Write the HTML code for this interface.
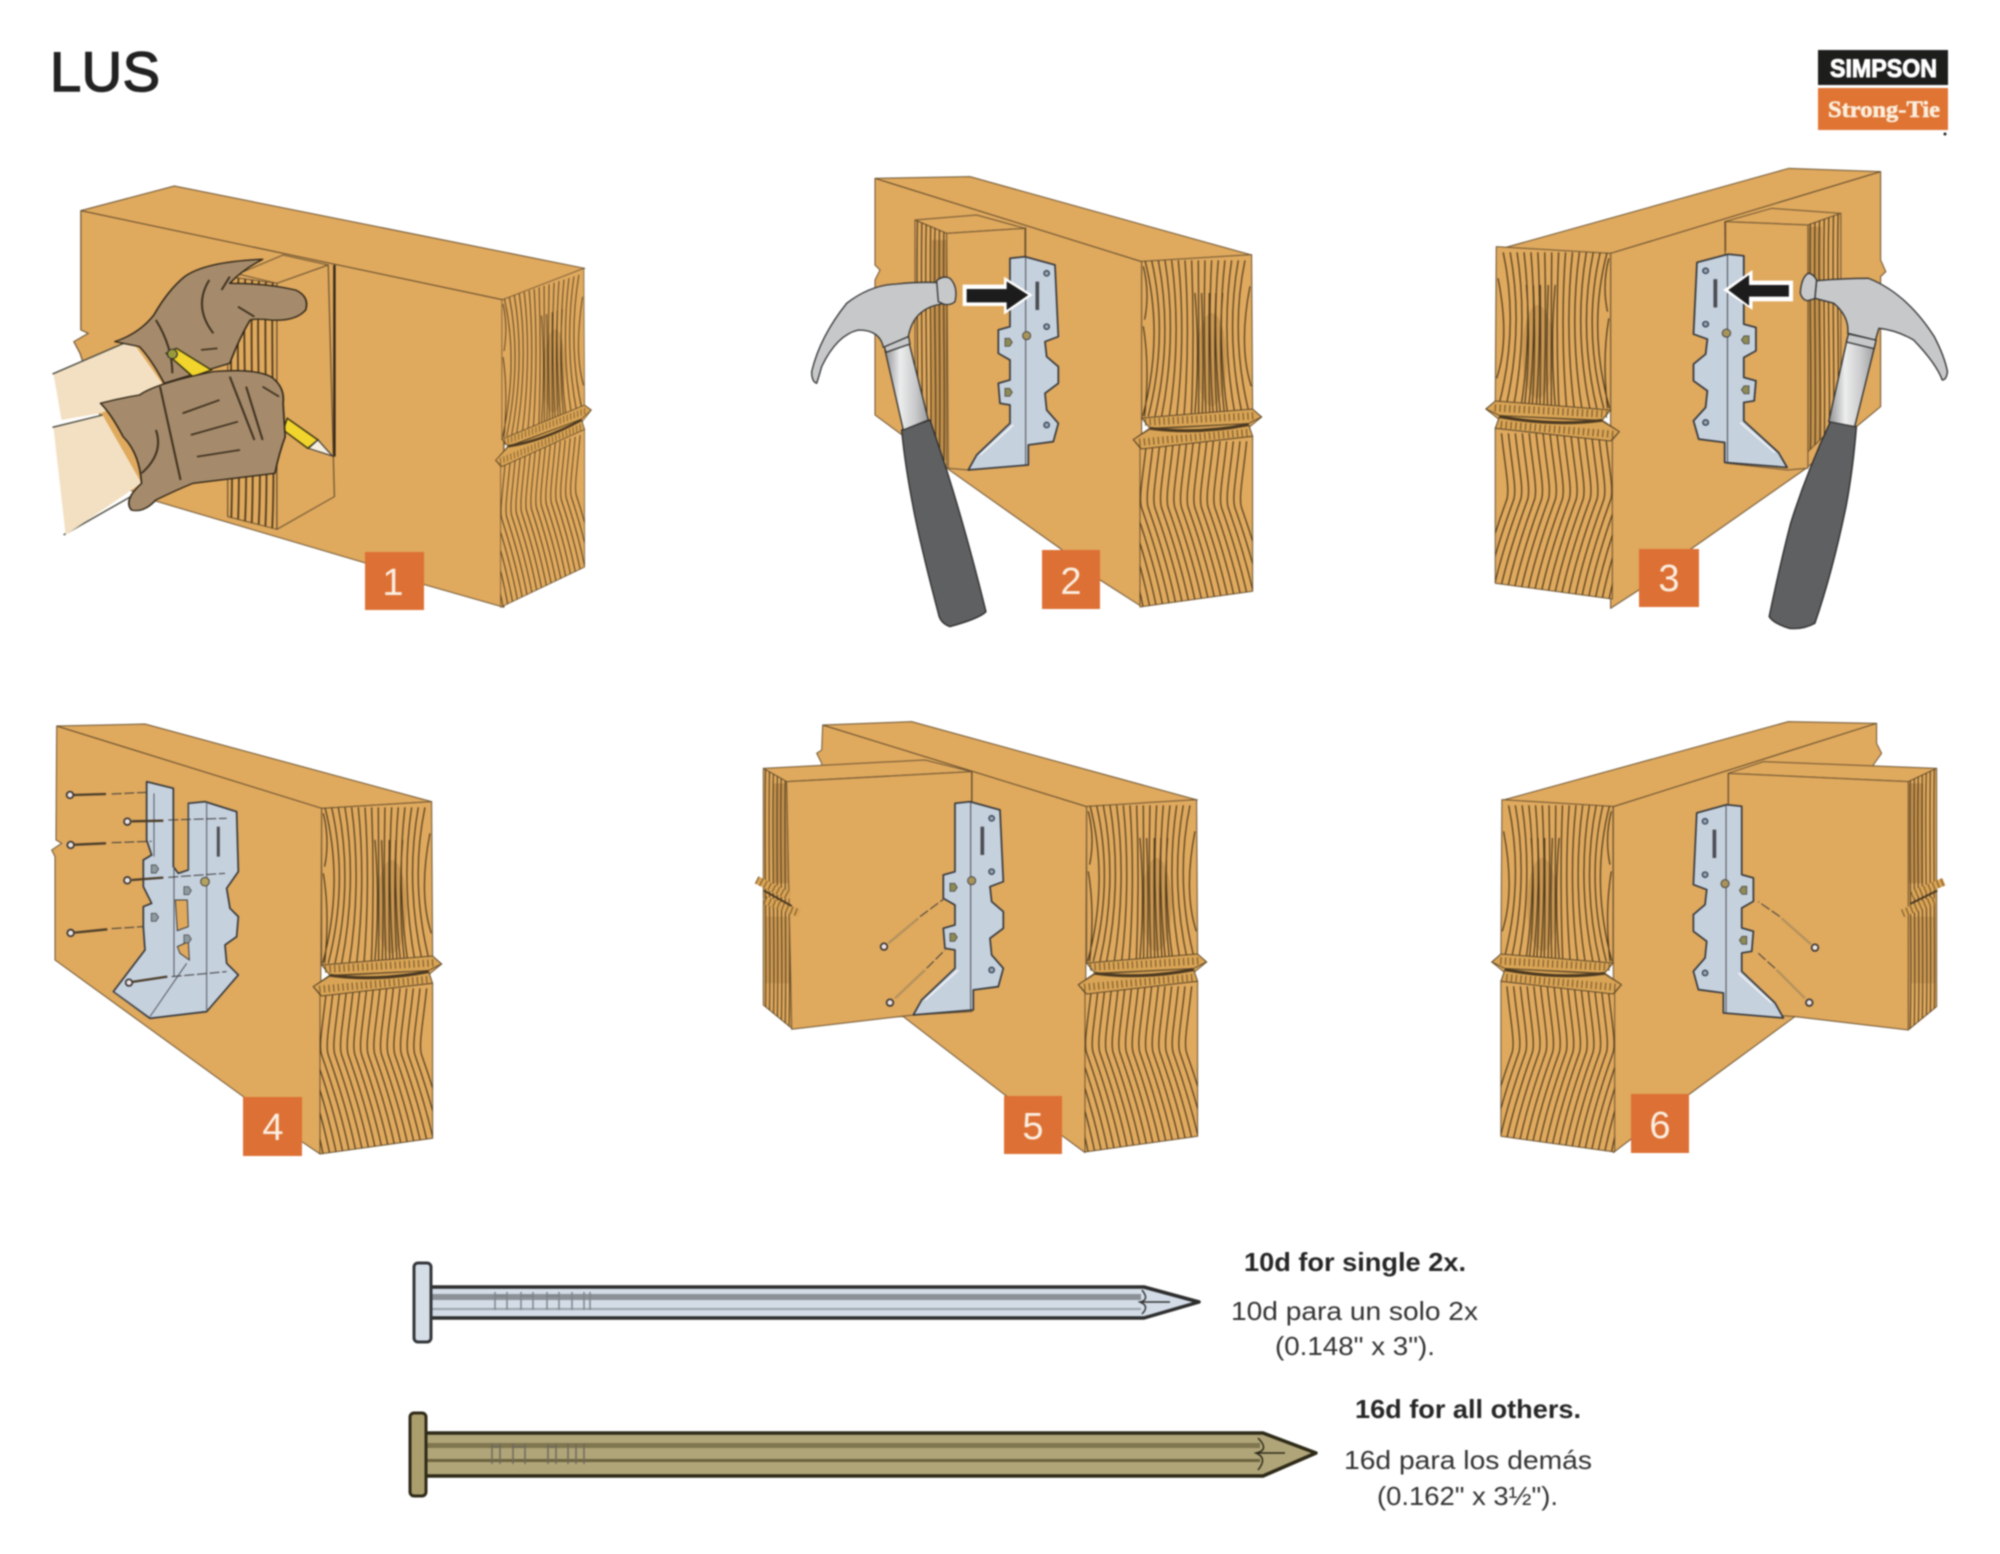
<!DOCTYPE html>
<html><head><meta charset="utf-8"><title>LUS</title>
<style>
html,body{margin:0;padding:0;background:#fff}
svg{display:block;filter:blur(.8px)}
.w{fill:#dfa95e;stroke:#6d5431;stroke-width:3;stroke-linejoin:round}
.e{fill:none;stroke:#5d4728;stroke-width:3}
.g{fill:none;stroke:#4f3a1c;stroke-width:3.6}
.gl{fill:#a58b6b;stroke:#2f2518;stroke-width:4;stroke-linejoin:round}
.wr{fill:none;stroke:#3e3020;stroke-width:5}
.b{fill:#c6d1de;stroke:#33373b;stroke-width:5;stroke-linejoin:round}
.h{fill:#f0e2e0;stroke:#333;stroke-width:5}
.s{fill:#5f6062;stroke:#2c2c2c;stroke-width:4;stroke-linejoin:round}
.m{fill:#c6c8ca;stroke:#333;stroke-width:4;stroke-linejoin:round}
.ns{stroke:#4a3c28;fill:none;stroke-width:7}
.nd{stroke:#3a3a3a;fill:none;stroke-width:3;stroke-dasharray:30 8}
text{font-family:"Liberation Sans",sans-serif}
.t{font-size:26px;fill:#333}
.tb{font-size:26px;fill:#262626;font-weight:bold}
.n{font-size:38px;fill:#fbeee0;text-anchor:middle}
</style></head><body>
<svg xmlns="http://www.w3.org/2000/svg" width="2000" height="1554" viewBox="0 0 2000 1554">
<defs>
<linearGradient id="sh" x1="0" x2="1" y1="0" y2="0"><stop offset="0" stop-color="#8f9092"/><stop offset=".35" stop-color="#eceded"/><stop offset=".7" stop-color="#c9cacb"/><stop offset="1" stop-color="#9a9b9d"/></linearGradient>
<clipPath id="egc"><polygon points="875,325 1205,305 1208,772 875,797"/><polygon points="870,885 1208,850 1208,1315 870,1362"/></clipPath>
<g id="eg">
<polygon class="w" points="875,325 1205,305 1208,770 1235,792 1195,825 1208,850 1208,1315 870,1362 870,885 850,860 900,825 875,795"/>
<g clip-path="url(#egc)">
<ellipse cx="1085" cy="620" rx="45" ry="140" fill="#a6773a" opacity=".35"/>
<path class="g" d="M885 322Q943 550 878 790M905 322Q956 550 895 790M925 322Q969 550 915 790M945 322Q982 550 935 790M965 322Q995 550 958 790M985 322Q1008 550 980 790M1005 322Q1021 550 1002 790M1025 322Q1034 550 1024 790M1045 322Q1047 550 1046 790M1065 322Q1060 550 1068 790M1085 322Q1073 550 1090 790M1105 322Q1086 550 1112 790M1125 322Q1099 550 1134 790M1145 322Q1112 550 1156 790M1165 322Q1125 550 1178 790M1185 322Q1138 550 1200 790M880 340Q900 420 884 500M880 520Q900 640 884 790M1200 400Q1165 580 1204 700M1035 420Q1050 600 1035 780M1055 420Q1062 600 1057 780M1078 420Q1076 600 1079 780M1098 420Q1090 600 1101 780M1118 420Q1104 600 1123 780"/>
<path class="g" d="M810 865c-10 100-25 170-15 200s55 150 85 300M830 865c-10 100-25 170-15 200s55 150 85 300M850 865c-10 100-25 170-15 200s55 150 85 300M870 865c-10 100-25 170-15 200s55 150 85 300M890 865c-10 100-25 170-15 200s55 150 85 300M910 865c-10 100-25 170-15 200s55 150 85 300M930 865c-10 100-25 170-15 200s55 150 85 300M950 865c-10 100-25 170-15 200s55 150 85 300M970 865c-10 100-25 170-15 200s55 150 85 300M990 865c-10 100-25 170-15 200s55 150 85 300M1010 865c-10 100-25 170-15 200s55 150 85 300M1030 865c-10 100-25 170-15 200s55 150 85 300M1050 865c-10 100-25 170-15 200s55 150 85 300M1070 865c-10 100-25 170-15 200s55 150 85 300M1090 865c-10 100-25 170-15 200s55 150 85 300M1110 865c-10 100-25 170-15 200s55 150 85 300M1130 865c-10 100-25 170-15 200s55 150 85 300M1150 865c-10 100-25 170-15 200s55 150 85 300M1170 865c-10 100-25 170-15 200s55 150 85 300M1190 865c-10 100-25 170-15 200s55 150 85 300"/>
</g>
<polygon points="875,795 1208,768 1235,792 1195,812 900,826" fill="#d9a455" stroke="#5d4728" stroke-width="3"/>
<line x1="885" y1="808" x2="1220" y2="788" stroke="#5a4220" stroke-width="22" stroke-dasharray="3 11" opacity=".85"/>
<polygon points="850,860 900,828 1195,812 1208,850 875,888" fill="#d9a455" stroke="#5d4728" stroke-width="3"/>
<line x1="868" y1="868" x2="1200" y2="838" stroke="#5a4220" stroke-width="22" stroke-dasharray="3 11" opacity=".85"/>
<path d="M900 826Q1040 845 1195 815" fill="none" stroke="#4a3820" stroke-width="9"/>
</g>
<path id="jg" class="g" d="M8 0c-6 200 6 500-2 700M22 0c-6 200 6 500-2 700M36 0c-8 200 8 500-2 700M50 0c-6 200 6 500-2 700M64 0c-8 200 8 500-2 700M78 0c-6 200 6 500-2 700M92 0c-6 200 6 500-2 700"/>
<g id="br">
<polygon class="b" points="690,355 735,350 825,375 835,590 795,605 800,650 835,680 835,730 795,760 800,810 835,850 820,905 745,915 745,975 565,990 590,945 690,850 690,795 660,790 655,730 690,720 690,660 655,640 655,570 690,560"/>
<line x1="737" y1="352" x2="737" y2="975" stroke="#4a4d52" stroke-width="3"/>
<path d="M600 945L700 855" stroke="#eef1f5" stroke-width="5"/>
<path d="M772 425L772 510" stroke="#4a4d52" stroke-width="11"/>
<circle cx="740" cy="587" r="12" fill="#a8945a" stroke="#444" stroke-width="3"/>
<circle cx="800" cy="400" r="8" fill="#9aa5b2" stroke="#2e3d4e" stroke-width="4"/><circle cx="800" cy="560" r="8" fill="#9aa5b2" stroke="#2e3d4e" stroke-width="4"/><circle cx="800" cy="855" r="8" fill="#9aa5b2" stroke="#2e3d4e" stroke-width="4"/>
<path d="M675 595h14l8 12-8 12h-14z" fill="#8d8a55" stroke="#333" stroke-width="2"/>
<path d="M675 745h14l8 12-8 12h-14z" fill="#8d8a55" stroke="#333" stroke-width="2"/>
</g>
</defs>

<rect width="2000" height="1554" fill="#fff"/>
<text x="50" y="91" font-size="56" fill="#222" stroke="#222" stroke-width="1.5" textLength="110">LUS</text>

<!-- logo -->
<rect x="1818" y="50" width="130" height="35" fill="#1d1d1b"/>
<rect x="1818" y="88" width="130" height="42" fill="#df7433"/>
<text x="1830" y="77" font-size="25" font-weight="bold" fill="#fff" stroke="#fff" stroke-width="1" textLength="107" lengthAdjust="spacingAndGlyphs">SIMPSON</text>
<text x="1828" y="117" font-size="23" font-weight="bold" fill="#fbeedd" stroke="#fbeedd" stroke-width=".6" style="font-family:'Liberation Serif',serif" textLength="112" lengthAdjust="spacingAndGlyphs">Strong-Tie</text>
<circle cx="1945" cy="134" r="1.5" fill="#222"/>

<!-- PANEL 1 -->
<g transform="translate(0,120) scale(.4103,.3333)">
<polygon class="w" points="197,272 425,198 1425,445 1228,540 1228,1462 1037,1395 893,1330 370,1140 300,1100 195,700 180,665 215,640 197,630"/>
<line class="e" x1="197" y1="272" x2="1228" y2="540"/>
</g>
<use href="#eg" transform="matrix(.2485,-.078,0,.296,284.4,272)"/>
<g transform="translate(0,120) scale(.4103,.3333)">
<polygon class="w" points="580,462 690,405 800,435 675,490"/>
<polygon class="w" points="555,470 675,490 675,1228 555,1190"/>
<clipPath id="c1"><polygon points="555,470 675,490 675,1228 555,1190"/></clipPath>
<g clip-path="url(#c1)"><use href="#jg" transform="translate(555,465) scale(1.2,1.1)"/></g>
<polygon class="w" points="675,490 800,435 815,1130 675,1228"/>
<line x1="815" y1="435" x2="815" y2="1010" stroke="#33281a" stroke-width="6"/>
<!-- arms -->
<polygon points="130,760 320,660 395,790 300,850 245,880 150,900" fill="#f3e0c2"/>
<path d="M128 762L320 660M155 1245L340 1115" fill="none" stroke="#4a4a40" stroke-width="4"/>
<!-- upper glove -->
<path class="gl" d="M280 665Q340 640 375 585Q410 510 450 470Q500 425 640 418Q590 450 560 490Q650 490 720 510Q755 530 745 570Q720 605 660 600Q625 595 610 600Q585 650 560 730L400 790Q370 720 340 680Z"/>
<path class="wr" d="M510 480Q470 560 520 640M380 600Q420 680 420 760M580 560L620 590M560 470L540 510M490 690L530 685"/>
<!-- pencil -->
<polygon points="405,700 430,685 515,750 470,770" fill="#f1d52c" stroke="#3a3410" stroke-width="4"/>
<ellipse cx="420" cy="702" rx="12" ry="14" fill="#9a9a3a" stroke="#333" stroke-width="3"/>
<polygon points="700,895 775,960 750,985 690,930" fill="#f1d52c" stroke="#3a3410" stroke-width="4"/>
<polygon points="775,960 810,1008 752,985" fill="#f6efe0" stroke="#333" stroke-width="3"/>
<!-- lower arm and glove -->
<polygon points="130,920 250,885 345,1090 160,1245" fill="#f3e0c2"/>
<path d="M128 922L250 885" fill="none" stroke="#4a4a40" stroke-width="4"/>
<path class="gl" d="M245 850Q290 835 340 825Q380 790 520 755Q620 745 660 770Q695 800 690 850L695 950Q680 1000 670 1060Q570 1075 470 1090Q430 1110 380 1140Q350 1180 320 1170Q300 1140 345 1090Q340 1000 300 950Q270 880 245 850Z"/>
<path class="wr" d="M445 880L535 840M465 945L580 905M480 1010L585 990M600 800L640 960M390 800L440 1080M345 1060Q400 1000 380 930M560 770L620 960M640 800L680 830"/>
</g>

<!-- PANEL 2 -->
<g transform="translate(780,140) scale(.3333)">
<polygon class="w" points="285,115 570,110 1415,345 1085,365 1085,1400 960,1320 840,1225 515,995 285,825 285,420 300,390 285,375"/>
<line class="e" x1="285" y1="115" x2="1085" y2="365"/>
<polygon class="w" points="405,240 590,225 735,265 500,280"/>
<polygon class="w" points="405,240 500,280 500,985 405,900"/>
<clipPath id="c2"><polygon points="405,240 500,280 500,985 405,900"/></clipPath>
<g clip-path="url(#c2)"><rect x="455" y="300" width="45" height="660" fill="#a6773a" opacity=".5"/><use href="#jg" transform="translate(405,240) scale(.95,1.1)"/></g>
<polygon class="w" points="500,280 735,265 735,970 565,990 505,985"/>
<line class="e" x1="737" y1="262" x2="737" y2="360"/>
</g>
<use href="#eg" transform="matrix(.3333,0,0,.3333,850,153)"/>
<use href="#br" transform="matrix(.3333,0,0,.3333,780,140)"/>
<g transform="translate(780,140) scale(.3333)">
<polygon points="548,434 672,434 672,410 758,465 672,524 672,498 548,498" fill="#fff"/>
<polygon points="560,447 680,447 680,424 745,465 680,510 680,487 560,487" fill="#1c1c1c"/>
<path class="s" d="M365 870L450 840Q480 930 500 990Q560 1180 618 1415Q600 1435 510 1460Q480 1450 475 1420Q430 1250 405 1130Q375 980 365 870Z"/>
<polygon points="315,630 385,600 445,840 370,870" fill="url(#sh)" stroke="#333" stroke-width="4"/>
<polygon class="m" points="310,610 385,585 390,612 318,637"/>
<path class="m" d="M350 432Q420 425 480 428L485 492Q400 505 385 590L310 622Q300 570 235 570Q170 585 125 680Q115 715 110 730Q95 725 95 695Q120 590 200 490Q270 435 350 432Z"/>
<path class="m" d="M470 422Q490 405 510 415Q535 440 525 485Q510 498 490 492L475 485Z"/>
</g>

<!-- PANEL 3 -->
<g transform="translate(1460,140) scale(.3462,.3333)">
<polygon class="w" points="105,330 950,85 1215,95 1215,360 1230,395 1215,410 1215,800 1000,985 670,1225 517,1350 435,1405 435,340"/>
<line class="e" x1="435" y1="340" x2="1215" y2="95"/>
<polygon class="w" points="765,245 900,205 1100,220 1005,255"/>
<polygon class="w" points="1005,255 1100,220 1100,840 1005,935"/>
<clipPath id="c3"><polygon points="1005,255 1100,220 1100,840 1005,935"/></clipPath>
<g clip-path="url(#c3)"><rect x="1005" y="260" width="40" height="680" fill="#a6773a" opacity=".45"/><use href="#jg" transform="translate(1005,220) scale(.95,1.1)"/></g>
<polygon class="w" points="765,245 1005,255 1005,985 945,990 770,970"/>
<line class="e" x1="767" y1="245" x2="767" y2="335"/>
</g>
<use href="#eg" transform="matrix(-.3464,0,0,.3333,1913.7,145)"/>
<use href="#br" transform="matrix(-.3467,0,0,.3333,1983,137.5)"/>
<g transform="translate(1460,140) scale(.3462,.3333)">
<polygon points="962,422 845,422 845,390 760,450 845,510 845,484 962,484" fill="#fff"/>
<polygon points="950,435 835,435 835,405 775,450 835,497 835,470 950,470" fill="#1c1c1c"/>
<path class="s" d="M1070 845L1145 860Q1135 990 1115 1100Q1075 1300 1025 1450Q990 1470 950 1465Q905 1450 893 1430Q925 1270 955 1150Q1000 1000 1070 845Z"/>
<polygon points="1120,590 1200,610 1140,860 1065,845" fill="url(#sh)" stroke="#333" stroke-width="4"/>
<polygon class="m" points="1122,582 1202,600 1196,626 1116,606"/>
<path class="m" d="M1030 422Q1110 415 1180 415Q1290 460 1370 590Q1400 650 1408 695Q1405 720 1393 720Q1375 670 1310 600Q1260 570 1210 565L1200 600L1120 580Q1125 530 1080 490L1025 475Z"/>
<path class="m" d="M1030 420Q1020 400 1005 400Q985 415 983 460Q990 482 1005 482L1025 476Z"/>
</g>

<!-- PANEL 4 -->
<g transform="translate(30,700) scale(.3333)">
<polygon class="w" points="80,78 345,72 1205,305 875,325 870,1362 815,1325 640,1190 75,780 75,470 65,450 95,430 78,420"/>
<line class="e" x1="80" y1="78" x2="875" y2="325"/>
</g>
<use href="#eg" transform="matrix(.3333,0,0,.3333,30,700)"/>
<g transform="translate(30,700) scale(.3333)">
<polygon class="b" points="350,245 430,265 430,500 445,520 475,510 475,310 525,305 620,335 625,515 590,565 600,625 625,650 620,710 585,735 590,790 625,825 530,935 360,955 250,875 345,750 340,680 340,620 365,610 340,560 340,480 365,465 350,420"/>
<polygon points="436,600 472,600 475,680 442,692" fill="#dfa95e" stroke="#3a3a3a" stroke-width="3"/>
<polygon points="442,740 475,725 478,780 450,760" fill="#dfa95e" stroke="#3a3a3a" stroke-width="3"/>
<path d="M475 310V510M530 310V930M372 280V470M432 500V830M250 875L350 950M360 950L470 790" fill="none" stroke="#50545a" stroke-width="3"/>
<path d="M565 380V470" stroke="#4a4d52" stroke-width="9"/>
<circle cx="525" cy="545" r="13" fill="#b5a25e" stroke="#444" stroke-width="3"/>
<path d="M364 495h14l8 12-8 12h-14zM364 640h14l8 12-8 12h-14zM462 560h14l8 12-8 12h-14zM462 705h14l8 12-8 12h-14z" fill="#8e9aa0" stroke="#333" stroke-width="2"/>
<path class="ns" d="M130 285L228 282M305 364L400 362M134 434L228 430M305 540L400 533M134 698L232 688M305 846L412 830"/>
<path class="nd" d="M245 282L350 277M415 360L590 355M245 428L365 424M415 532L585 520M245 686L340 680M425 830L590 815"/>
<circle class="h" cx="120" cy="285" r="10"/><circle class="h" cx="292" cy="365" r="10"/><circle class="h" cx="122" cy="435" r="10"/><circle class="h" cx="292" cy="541" r="10"/><circle class="h" cx="122" cy="699" r="10"/><circle class="h" cx="297" cy="848" r="10"/>
</g>

<!-- PANEL 5 -->
<g transform="translate(740,700) scale(.3333)">
<polygon class="w" points="248,75 515,65 1372,300 1040,320 1035,1358 970,1310 795,1185 490,950 240,950 245,190 230,160 245,150"/>
<line class="e" x1="248" y1="75" x2="1040" y2="320"/>
<polygon class="w" points="70,205 555,180 695,215 140,245"/>
<polygon class="w" points="70,205 140,245 155,985 70,915"/>
<clipPath id="c5"><polygon points="70,205 140,245 155,985 70,915"/></clipPath>
<g clip-path="url(#c5)"><rect x="100" y="250" width="50" height="300" fill="#a6773a" opacity=".5"/><rect x="75" y="650" width="75" height="200" fill="#a6773a" opacity=".3"/><use href="#jg" transform="translate(70,205) scale(.85,1.15)"/></g>
<polygon class="w" points="140,245 695,215 695,935 520,945 155,988"/>
<polygon points="60,535 75,540 62,575 70,600 40,570" fill="#fff"/>
<path d="M50 540L150 590M75 600L178 640" stroke="#d9a455" stroke-width="24" fill="none"/>
<path d="M50 540L150 590M75 600L178 640" stroke="#5a4220" stroke-width="24" stroke-dasharray="3 11" opacity=".85" fill="none"/>
<path d="M72 572L155 618" stroke="#4a3820" stroke-width="6"/>
<line class="e" x1="696" y1="215" x2="696" y2="310"/>
</g>
<use href="#eg" transform="matrix(.3333,0,0,.3333,795,698)"/>
<use href="#br" transform="matrix(.3333,0,0,.3333,725,685)"/>
<g transform="translate(740,700) scale(.3333)">
<path class="ns" style="stroke:#b3925c" d="M445 730L535 655M465 895L555 810"/>
<path class="nd" d="M540 650L610 598M560 805L615 750"/>
<circle class="h" cx="432" cy="740" r="10"/><circle class="h" cx="450" cy="908" r="10"/>
</g>

<!-- PANEL 6 -->
<g transform="translate(1480,700) scale(.3333)">
<polygon class="w" points="70,300 925,65 1190,70 1190,130 1205,160 1180,195 1180,210 1180,950 945,950 625,1185 450,1320 400,1358 400,320"/>
<line class="e" x1="400" y1="320" x2="1190" y2="70"/>
<polygon class="w" points="745,220 850,185 1370,205 1285,245"/>
<polygon class="w" points="1285,245 1370,205 1370,920 1285,990"/>
<clipPath id="c6"><polygon points="1285,245 1370,205 1370,920 1285,990"/></clipPath>
<g clip-path="url(#c6)"><rect x="1285" y="250" width="45" height="300" fill="#a6773a" opacity=".5"/><rect x="1290" y="650" width="75" height="200" fill="#a6773a" opacity=".3"/><use href="#jg" transform="translate(1285,205) scale(.85,1.15)"/></g>
<polygon class="w" points="745,220 1285,245 1285,990 945,950 745,935"/>
<path d="M1268 640L1365 600M1295 585L1392 545" stroke="#d9a455" stroke-width="24" fill="none"/>
<path d="M1268 640L1365 600M1295 585L1392 545" stroke="#5a4220" stroke-width="24" stroke-dasharray="3 11" opacity=".85" fill="none"/>
<path d="M1290 612L1372 572" stroke="#4a3820" stroke-width="6"/>
<line class="e" x1="745" y1="220" x2="745" y2="310"/>
</g>
<use href="#eg" transform="matrix(-.3367,0,0,.3333,1907.6,698)"/>
<use href="#br" transform="matrix(-.3333,0,0,.3333,1971.7,688)"/>
<g transform="translate(1480,700) scale(.3333)">
<path class="ns" style="stroke:#b3925c" d="M993 733L905 655M975 895L890 810"/>
<path class="nd" d="M900 650L835 605M885 805L835 760"/>
<circle class="h" cx="1005" cy="743" r="10"/><circle class="h" cx="988" cy="908" r="10"/>
</g>

<!-- badges -->
<g fill="#dd7034">
<rect x="365" y="552" width="59" height="58"/><rect x="1042" y="550" width="58" height="59"/><rect x="1639" y="549" width="60" height="58"/>
<rect x="243" y="1097" width="59" height="59"/><rect x="1004" y="1096" width="58" height="58"/><rect x="1631" y="1094" width="58" height="59"/>
</g>
<text class="n" x="393" y="595">1</text><text class="n" x="1071" y="594">2</text><text class="n" x="1669" y="591">3</text>
<text class="n" x="273" y="1140">4</text><text class="n" x="1033" y="1139">5</text><text class="n" x="1660" y="1138">6</text>

<!-- nail 1 -->
<path d="M428 1287H1144L1199 1302L1144 1318H428Z" fill="#d3dce7" stroke="#2e2e2e" stroke-width="3.5" stroke-linejoin="round"/>
<rect x="429" y="1294" width="712" height="6" fill="#8b9097"/>
<rect x="429" y="1308" width="712" height="2" fill="#9aa1a8"/>
<rect x="414" y="1263" width="17" height="79" rx="4" fill="#d5dde7" stroke="#33373b" stroke-width="3"/>
<path d="M495 1292V1310M507 1292V1310M495 1296H507M521 1292V1310M533 1292V1310M521 1296H533M547 1292V1310M559 1292V1310M547 1296H559M572 1292V1310M584 1292V1310M590 1292V1310" stroke="#7d8389" stroke-width="1.5" fill="none"/>
<path d="M1142 1290Q1150 1300 1140 1302Q1150 1306 1142 1314M1140 1302H1170" stroke="#333" stroke-width="1.5" fill="none"/>
<!-- nail 2 -->
<path d="M424 1433H1263L1316 1453L1263 1476H424Z" fill="#b0a579" stroke="#2e2a18" stroke-width="3.5" stroke-linejoin="round"/>
<rect x="426" y="1443" width="834" height="5" fill="#7f754e"/>
<rect x="426" y="1459" width="834" height="3" fill="#6b6240"/>
<rect x="410" y="1413" width="16" height="83" rx="4" fill="#a99e6c" stroke="#2e2a18" stroke-width="3"/>
<path d="M492 1443V1464M500 1443V1464M492 1447H500M513 1443V1464M525 1443V1464M513 1447H525M548 1443V1464M556 1443V1464M548 1447H556M568 1443V1464M576 1443V1464M584 1443V1464" stroke="#6e6a5a" stroke-width="1.5" fill="none"/>
<path d="M1258 1438Q1270 1450 1256 1453Q1268 1458 1258 1470M1256 1453H1285" stroke="#2e2a18" stroke-width="1.5" fill="none"/>

<!-- labels -->
<text class="tb" x="1244" y="1271" textLength="222" lengthAdjust="spacingAndGlyphs">10d for single 2x.</text>
<text class="t" x="1231" y="1320" textLength="247" lengthAdjust="spacingAndGlyphs">10d para un solo 2x</text>
<text class="t" x="1275" y="1355" textLength="160" lengthAdjust="spacingAndGlyphs">(0.148&quot; x 3&quot;).</text>
<text class="tb" x="1355" y="1418" textLength="226" lengthAdjust="spacingAndGlyphs">16d for all others.</text>
<text class="t" x="1344" y="1469" textLength="248" lengthAdjust="spacingAndGlyphs">16d para los demás</text>
<text class="t" x="1377" y="1505" textLength="181" lengthAdjust="spacingAndGlyphs">(0.162&quot; x 3½&quot;).</text>
</svg>
</body></html>
